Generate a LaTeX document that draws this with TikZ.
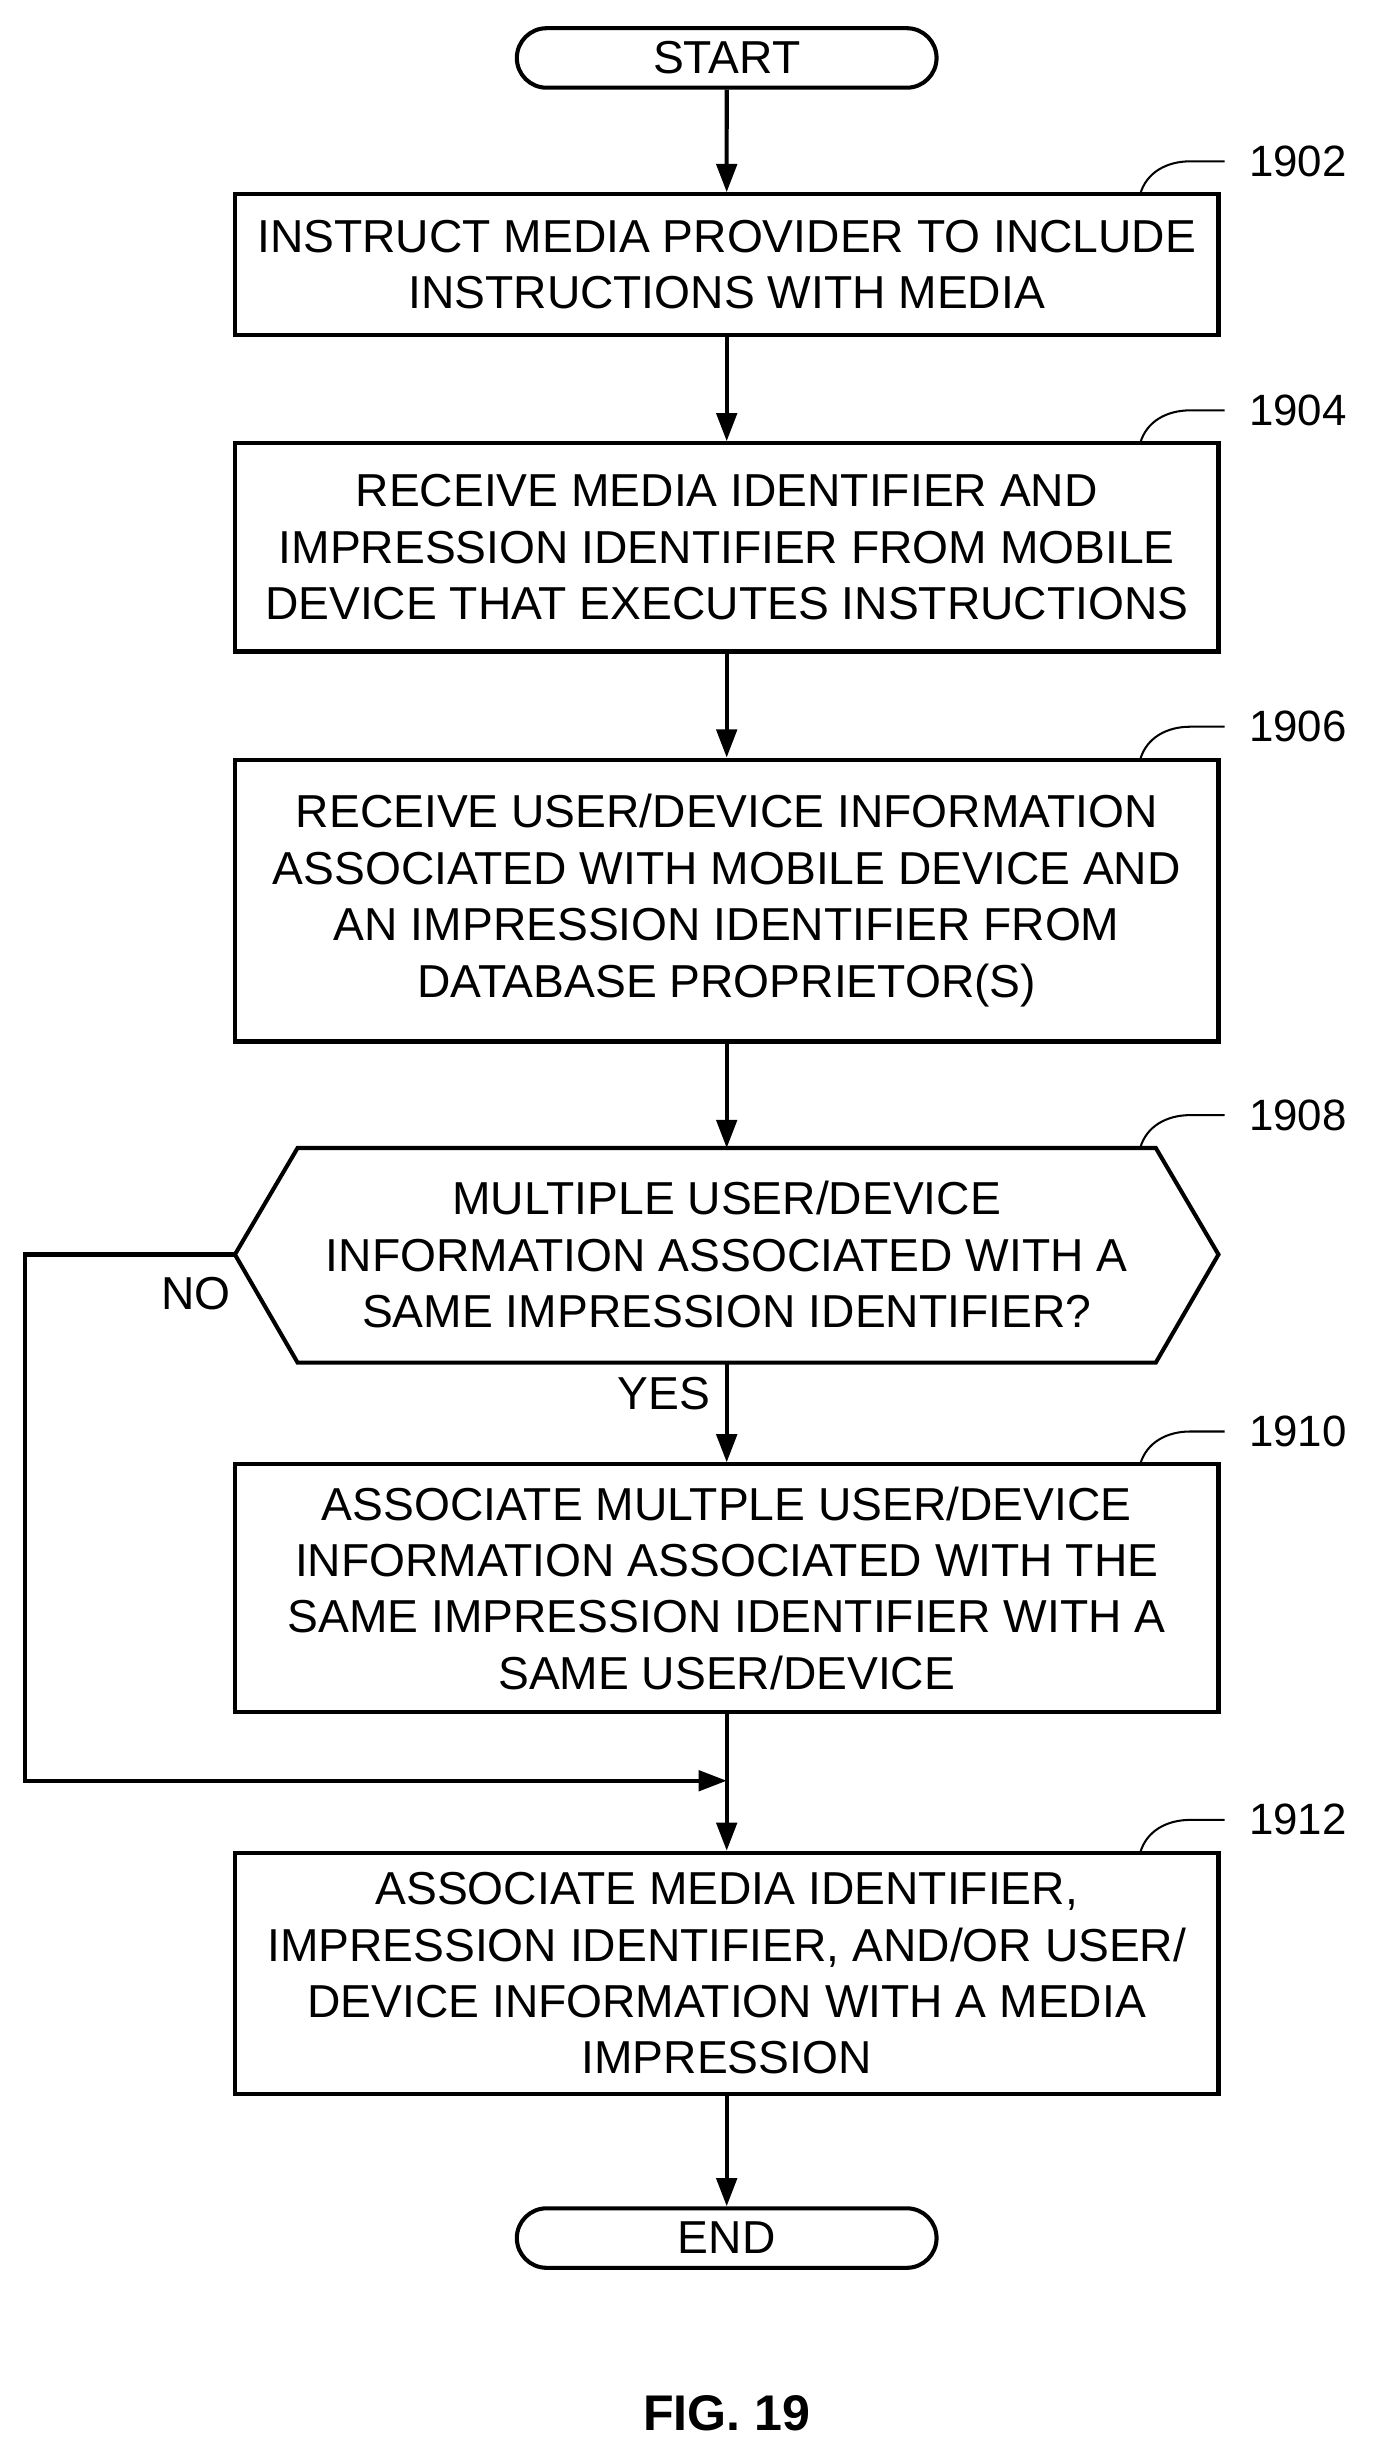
\documentclass[tikz,border=0pt]{standalone}
\usepackage{fontspec}
\setmainfont{Liberation Sans}
\usetikzlibrary{arrows.meta,shapes.misc}
\begin{document}
\begin{tikzpicture}[x=1pt,y=-1pt,line width=2.6pt,
  txt/.style={font=\fontsize{29.5}{36}\selectfont,align=center},
  box/.style={draw,txt,minimum width=628pt,inner sep=0pt},
  term/.style={draw,txt,rounded rectangle,minimum width=268pt,minimum height=38pt,inner sep=0pt},
  arr/.style={-{Triangle[length=18pt,width=13pt]}},
  lab/.style={font=\fontsize{28}{32}\selectfont,anchor=west},
  sq/.style={line width=1.3pt}]
\useasboundingbox (0,0) rectangle (880,1572);
\node[term] (start) at (464,37) {START};
\node[box,minimum height=90pt] (b1) at (464,169) {INSTRUCT MEDIA PROVIDER TO INCLUDE\\INSTRUCTIONS WITH MEDIA};
\node[box,minimum height=133pt] (b2) at (464,349.5) {RECEIVE MEDIA IDENTIFIER AND\\IMPRESSION IDENTIFIER FROM MOBILE\\DEVICE THAT EXECUTES INSTRUCTIONS};
\node[box,minimum height=180pt] (b3) at (464,575) {RECEIVE USER/DEVICE INFORMATION\\ASSOCIATED WITH MOBILE DEVICE AND\\AN IMPRESSION IDENTIFIER FROM\\DATABASE PROPRIETOR(S)};
\coordinate (dl) at (150,801); \coordinate (dr) at (778,801);
\coordinate (dt) at (464,733); \coordinate (db) at (464,870);
\draw (dl) -- (190,733) -- (738,733) -- (dr) -- (738,870) -- (190,870) -- cycle;
\node[txt] (d) at (464,801) {MULTIPLE USER/DEVICE\\INFORMATION ASSOCIATED WITH A\\SAME IMPRESSION IDENTIFIER?};
\node[box,minimum height=158pt] (b4) at (464,1014) {ASSOCIATE MULTPLE USER/DEVICE\\INFORMATION ASSOCIATED WITH THE\\SAME IMPRESSION IDENTIFIER WITH A\\SAME USER/DEVICE};
\node[box,minimum height=154pt] (b5) at (464,1260) {ASSOCIATE MEDIA IDENTIFIER,\\IMPRESSION IDENTIFIER, AND/OR USER/\\DEVICE INFORMATION WITH A MEDIA\\IMPRESSION};
\node[term] (end) at (464,1429) {END};
\node[font=\bfseries\fontsize{32}{36}\selectfont] (fig) at (464,1541) {FIG. 19};
\draw[arr] (start) -- (b1);
\draw[arr] (b1) -- (b2);
\draw[arr] (b2) -- (b3);
\draw[arr] (b3) -- (dt);
\draw[arr] (db) -- (b4);
\coordinate (j) at (464,1137);
\draw[arr] (b4) -- (b5);
\coordinate (c1) at (16,801); \coordinate (c2) at (16,1137);
\draw[arr] (dl) -- (c1) -- (c2) -- (j);
\node[txt] (no) at (125,826) {NO};
\node[txt] (yes) at (424,890) {YES};
\draw[arr] (b5) -- (end);
\foreach \y/\t in {124/1902,283/1904,485/1906,733/1908,935/1910,1183/1912}{
  \draw[sq] (728,\y) .. controls (732,\y-14) and (745,\y-21) .. (760,\y-21) -- (782,\y-21);
  \node[lab] at (793,\y-21) {\t};
}
\end{tikzpicture}
\end{document}
